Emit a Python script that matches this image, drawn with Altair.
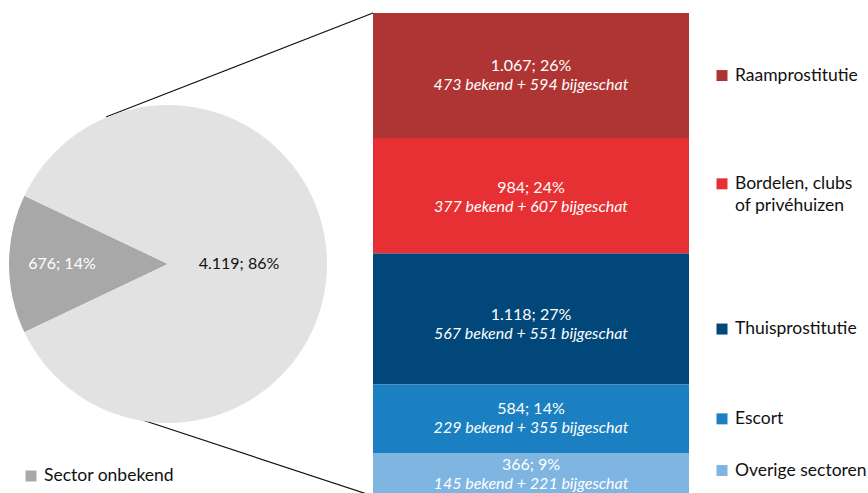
import math
import altair as alt
import pandas as pd

# ---- data ----
pie_cats = ["Sector onbekend", "Sector bekend"]
pie_vals = [676, 4119]
pie_labels = ["676; 14%", "4.119; 86%"]

bar_cats = ["Raamprostitutie", "Bordelen, clubs\nof privéhuizen", "Thuisprostitutie", "Escort", "Overige sectoren"]
bar_vals = [1067, 984, 1118, 584, 366]
bar_pct = ["26%", "24%", "27%", "14%", "9%"]
bar_known = [473, 377, 567, 229, 145]
bar_est = [594, 607, 551, 355, 221]
bar_total_labels = ["1.067", "984", "1.118", "584", "366"]

bar_colors = ["#AE3533", "#E63034", "#01477A", "#1B80C1", "#7EB5E1"]
pie_colors = ["#A8A8A8", "#E2E2E2"]

# layout: legend vertical shift (px) relative to segment middle
legend_shift_px = [0, -12, 10, 0, -4]
label_shift_px = [0, 2, 6, 0, 0]

FONT = "Lato"

# ---- tables ----
pie_df = pd.DataFrame({"cat": pie_cats, "val": pie_vals, "label": pie_labels, "ord": [0, 1]})

bar_df = pd.DataFrame({"cat": bar_cats, "val": bar_vals})
total = sum(bar_vals)
top = total - pd.Series(bar_vals).cumsum() + pd.Series(bar_vals)
bar_df["y1"] = top
bar_df["y0"] = top - bar_df["val"]
bar_df["mid"] = (bar_df["y0"] + bar_df["y1"]) / 2
px_per_unit = (496 - 13) / total
bar_df["leg_y"] = bar_df["mid"] - pd.Series(legend_shift_px) / px_per_unit
bar_df["lab_y"] = bar_df["mid"] - pd.Series(label_shift_px) / px_per_unit
bar_df["line1"] = [f"{t}; {p}" for t, p in zip(bar_total_labels, bar_pct)]
bar_df["line2"] = [f"{k} bekend + {e} bijgeschat" for k, e in zip(bar_known, bar_est)]

W, H = 868, 493
yscale = alt.Scale(domain=[0, total], range=[496, 13], nice=False, zero=False)
bar_color = alt.Color("cat:N", scale=alt.Scale(domain=bar_cats, range=bar_colors), legend=None)

frac0 = pie_vals[0] / sum(pie_vals)
start = 1.5 * math.pi - math.pi * frac0
theta_scale = alt.Scale(range=[start, start + 2 * math.pi])

# connecting lines (behind pie)
line_top = alt.Chart(pie_df.head(1)).mark_rule(color="#111111", strokeWidth=1.2).encode(
    x=alt.value(106), y=alt.value(117), x2=alt.value(373), y2=alt.value(13))
line_bot = alt.Chart(pie_df.head(1)).mark_rule(color="#111111", strokeWidth=1.2).encode(
    x=alt.value(106), y=alt.value(408), x2=alt.value(373), y2=alt.value(496))

pie_base = alt.Chart(pie_df).encode(
    theta=alt.Theta("val:Q", stack=True, scale=theta_scale),
    order=alt.Order("ord:Q"),
    x=alt.value(168), y=alt.value(264),
)
pie = pie_base.mark_arc(radius=159).encode(
    color=alt.Color("cat:N", scale=alt.Scale(domain=pie_cats, range=pie_colors), legend=None))
pie_txt_dark = pie_base.mark_text(radius=106, font=FONT, fontSize=16, color="white").encode(
    text=alt.condition(alt.datum.cat == "Sector onbekend", alt.Text("label:N"), alt.value("")))
pie_txt_light = pie_base.mark_text(radius=71, font=FONT, fontSize=16, color="#111111").encode(
    text=alt.condition(alt.datum.cat == "Sector bekend", alt.Text("label:N"), alt.value("")))

bars = alt.Chart(bar_df).mark_rect().encode(
    x=alt.value(373), x2=alt.value(689),
    y=alt.Y("y0:Q", scale=yscale, axis=None), y2="y1:Q",
    color=bar_color,
)
bar_t1 = alt.Chart(bar_df).mark_text(font=FONT, fontSize=16, color="white", dy=-10).encode(
    x=alt.value(531), y=alt.Y("lab_y:Q", scale=yscale, axis=None), text="line1:N")
bar_t2 = alt.Chart(bar_df).mark_text(font=FONT, fontSize=16, fontStyle="italic", color="white", dy=9).encode(
    x=alt.value(531), y=alt.Y("lab_y:Q", scale=yscale, axis=None), text="line2:N")

leg_sq = alt.Chart(bar_df).mark_square(size=121, opacity=1).encode(
    x=alt.value(722), y=alt.Y("leg_y:Q", scale=yscale, axis=None), color=bar_color)
leg_txt = alt.Chart(bar_df).mark_text(font=FONT, fontSize=17.5, color="#111111", align="left",
                                       baseline="middle", lineBreak="\n", lineHeight=22).encode(
    x=alt.value(735), y=alt.Y("leg_y:Q", scale=yscale, axis=None), text="cat:N")

unk = pie_df.head(1)
unk_sq = alt.Chart(unk).mark_square(size=121, opacity=1, color=pie_colors[0]).encode(
    x=alt.value(31), y=alt.value(476))
unk_txt = alt.Chart(unk).mark_text(font=FONT, fontSize=17.5, color="#111111", align="left", baseline="middle").encode(
    x=alt.value(44), y=alt.value(476), text="cat:N")

chart = alt.layer(
    line_top, line_bot, pie, pie_txt_dark, pie_txt_light,
    bars, bar_t1, bar_t2, leg_sq, leg_txt, unk_sq, unk_txt
).resolve_scale(color="independent").properties(
    width=W, height=H, padding=0, autosize=alt.AutoSizeParams(type="none"),
    background="white"
).configure_view(stroke=None)

chart.save("out.html", embed_options={"renderer": "svg", "actions": False})
